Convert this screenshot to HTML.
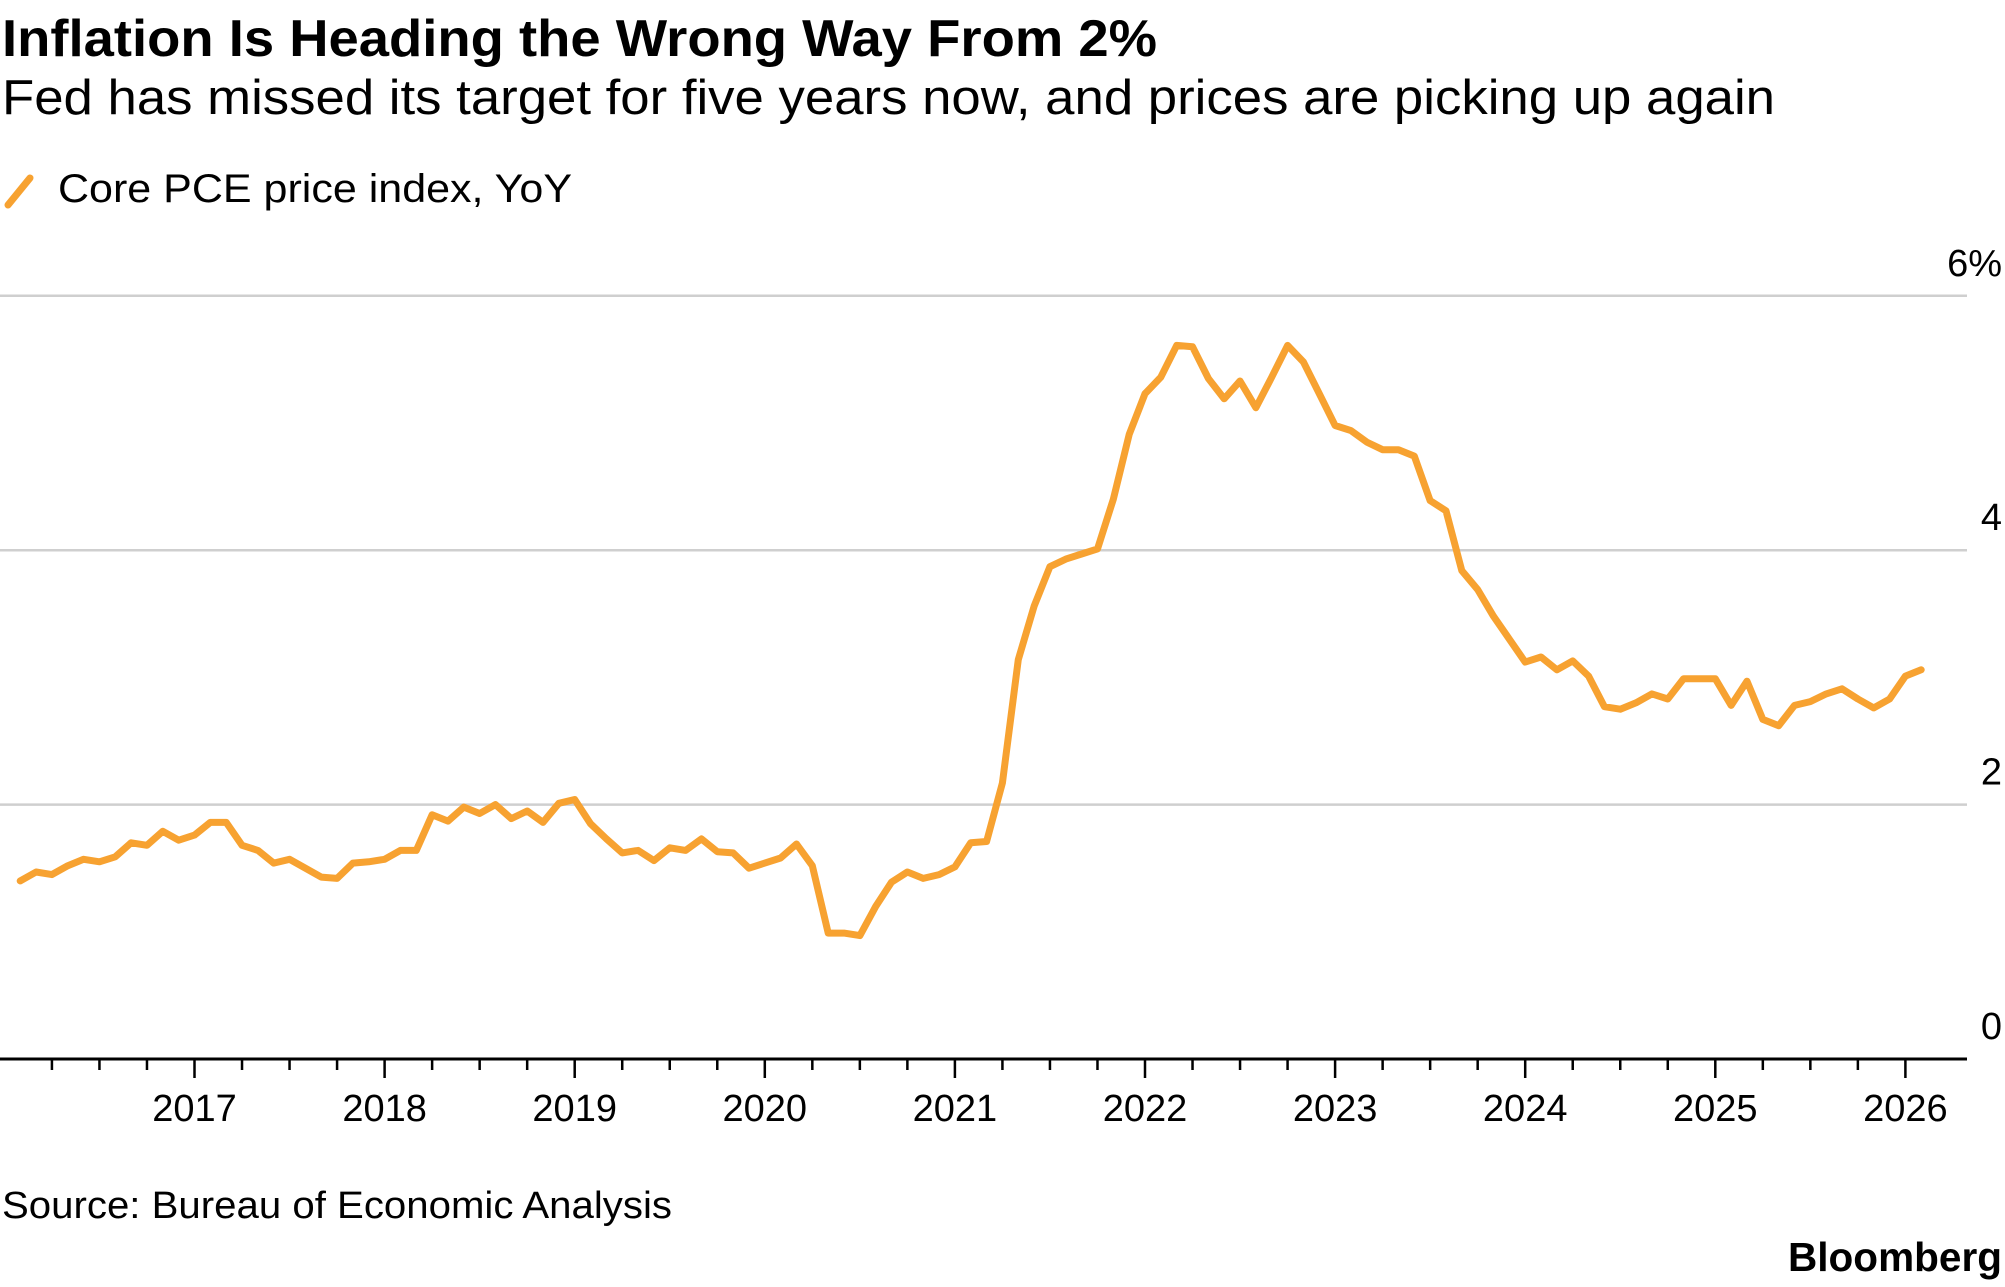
<!DOCTYPE html>
<html><head><meta charset="utf-8"><style>
html,body{margin:0;padding:0;background:#fff;}
svg{display:block;font-family:"Liberation Sans",Arial,sans-serif;}
</style></head><body>
<svg id="chart" width="2005" height="1287" viewBox="0 0 2005 1287" xmlns="http://www.w3.org/2000/svg">
<text x="2" y="56" font-size="52" font-weight="bold" fill="#000" textLength="1155" lengthAdjust="spacingAndGlyphs">Inflation Is Heading the Wrong Way From 2%</text>
<text x="2" y="114" font-size="49" fill="#000" textLength="1773" lengthAdjust="spacingAndGlyphs">Fed has missed its target for five years now, and prices are picking up again</text>
<g>
<line x1="8" y1="205" x2="30" y2="178" stroke="#F7A231" stroke-width="7" stroke-linecap="round"/>
<text x="58" y="202" font-size="40" fill="#000" textLength="514" lengthAdjust="spacingAndGlyphs">Core PCE price index, YoY</text>
</g>
<g id="grid"></g>
<g id="yticks"></g>
<g id="xaxis"></g>
<g id="series"></g>
<text x="2" y="1218" font-size="38" fill="#000" textLength="670" lengthAdjust="spacingAndGlyphs">Source: Bureau of Economic Analysis</text>
<text x="2002" y="1271" font-size="41" font-weight="bold" fill="#000" text-anchor="end" textLength="214" lengthAdjust="spacingAndGlyphs">Bloomberg</text>
</svg>
<script>
const yTicks = [0, 2, 4, 6];
const yTickLabels = ["0", "2", "4", "6%"];
const xYears = [2017, 2018, 2019, 2020, 2021, 2022, 2023, 2024, 2025, 2026];
const startYear = 2016;
const startMonth = 1; // months after Jan 2016 of first point
const coreValues = [
1.40,1.47,1.45,1.52,1.57,1.55,1.59,1.70,1.68,1.79,1.72,1.76,
1.86,1.86,1.68,1.64,1.54,1.57,1.50,1.43,1.42,1.54,1.55,1.57,
1.64,1.64,1.92,1.87,1.98,1.93,2.00,1.89,1.95,1.86,2.01,2.04,
1.85,1.73,1.62,1.64,1.56,1.66,1.64,1.73,1.63,1.62,1.50,1.54,
1.58,1.69,1.52,0.99,0.99,0.97,1.20,1.39,1.47,1.42,1.45,1.51,
1.70,1.71,2.17,3.14,3.56,3.87,3.93,3.97,4.01,4.40,4.91,5.23,
5.36,5.61,5.60,5.35,5.19,5.33,5.12,5.36,5.61,5.48,5.23,4.98,
4.94,4.85,4.79,4.79,4.74,4.39,4.31,3.84,3.69,3.48,3.30,3.12,
3.16,3.06,3.13,3.01,2.77,2.75,2.80,2.87,2.83,2.99,2.99,2.99,
2.78,2.97,2.67,2.62,2.78,2.81,2.87,2.91,2.83,2.76,2.83,3.01,
3.06];

const NS = "http://www.w3.org/2000/svg";
const X0 = 194.5, PX_PER_YEAR = 190.1;
const Y0 = 1059, PX_PER_PCT = 127.2;
function xScale(t){ return X0 + (t - 2017) * PX_PER_YEAR; }
function yScale(v){ return Y0 - v * PX_PER_PCT; }
function mk(tag, attrs){ const e = document.createElementNS(NS, tag); for (const k in attrs) e.setAttribute(k, attrs[k]); return e; }

const grid = document.getElementById('grid');
const yt = document.getElementById('yticks');
yTicks.forEach((v, i) => {
  if (v !== 0) {
    const l = mk('line', {x1: 0, x2: 1967, y1: yScale(v), y2: yScale(v), stroke: '#cfcfcf', 'stroke-width': 2.5});
    
    
    grid.appendChild(l);
  }
  const t = mk('text', {x: 2002, y: yScale(v) - 20, 'font-size': 38, 'text-anchor': 'end', fill: '#000'});
  
  
  t.textContent = yTickLabels[i];
  yt.appendChild(t);
});

const xa = document.getElementById('xaxis');
const axisLine = mk('line', {x1: 0, x2: 1967, y1: Y0, y2: Y0, stroke: '#000', 'stroke-width': 3});


xa.appendChild(axisLine);
for (let q = 1; q <= 40; q++) {
  const t = 2016 + q / 4;
  const major = q % 4 === 0;
  const x = xScale(t);
  const tk = mk('line', {x1: x, x2: x, y1: Y0, y2: Y0 + (major ? 19 : 11), stroke: '#000', 'stroke-width': 2.5});
  
  
  xa.appendChild(tk);
}
xYears.forEach(yr => {
  const t = mk('text', {x: xScale(yr), y: 1121, 'font-size': 38, 'text-anchor': 'middle', fill: '#000'});
  
  
  t.textContent = String(yr);
  xa.appendChild(t);
});

const pts = coreValues.map((v, i) => {
  const t = startYear + (startMonth + i) / 12;
  return xScale(t).toFixed(1) + ',' + yScale(v).toFixed(1);
});
const line = mk('polyline', {points: pts.join(' '), fill: 'none', stroke: '#F7A231', 'stroke-width': 7, 'stroke-linejoin': 'round', 'stroke-linecap': 'round'});


document.getElementById('series').appendChild(line);
</script>
</body></html>
